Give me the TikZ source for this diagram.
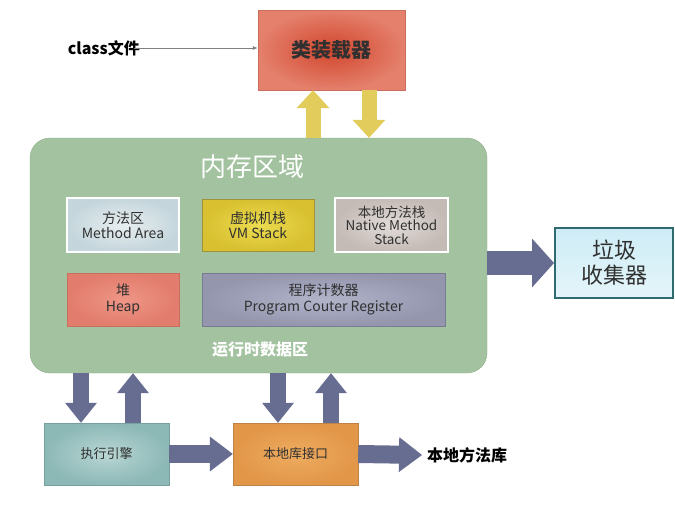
\documentclass[tikz,border=0pt]{standalone}
\usepackage{fontspec}
\setmainfont{Noto Sans CJK SC}
\usetikzlibrary{arrows.meta,calc}
\definecolor{greenbox}{HTML}{A3C3A0}
\definecolor{greenedge}{HTML}{8FB08C}
\definecolor{arrowblue}{HTML}{676D90}
\definecolor{arrowyel}{HTML}{E2CC5C}
\definecolor{txt}{HTML}{303030}
\tikzset{
  box/.style={draw, minimum width=#1, inner sep=1pt, align=center, text=txt, font=\fontsize{14}{15.5}\selectfont},
  fatv/.style={line width=16pt, draw=arrowblue, -{Triangle[width=32pt,length=20pt,line width=0pt]}},
  fath/.style={line width=18pt, draw=arrowblue, -{Triangle[width=35pt,length=23pt,line width=0pt]}},
  fatgc/.style={line width=24pt, draw=arrowblue, -{Triangle[width=49pt,length=22pt,line width=0pt]}},
  fatyel/.style={line width=15pt, draw=arrowyel, -{Triangle[width=33pt,length=18pt,line width=0pt]}},
}
\begin{document}
\begin{tikzpicture}[x=1pt,y=-1pt]
\useasboundingbox[fill=white] (0,0) rectangle (675,522);

% class loader
\node[box=147pt, minimum height=80pt, draw={rgb,255:red,200;green,110;blue,95}, inner color={rgb,255:red,210;green,70;blue,45}, outer color={rgb,255:red,228;green,128;blue,108}, font=\fontsize{20}{22}\selectfont\bfseries] (loader) at (331.5,50) {类装载器};
\node[font=\fontsize{16}{18}\selectfont\bfseries, anchor=east, inner sep=0pt] (classf) at (140,48) {class文件};
\draw[gray, line width=0.8pt, -{Latex[length=5pt,width=4pt]}] ([xshift=-6pt]classf.east) -- (loader.west |- classf.east);

% memory area
\node[draw=greenedge, fill=greenbox, rounded corners=20pt, minimum width=457pt, minimum height=235pt] (mem) at (258.5,255.5) {};
\node[text=white, font=\fontsize{26}{28}\selectfont] (memt) at (252,167) {内存区域};
\node[text=white, font=\fontsize{16}{18}\selectfont\bfseries] (rtd) at (260,350) {运行时数据区};

\node[box=112pt, minimum height=54pt, draw=white, line width=1.5pt, inner color={rgb,255:red,232;green,238;blue,240}, outer color={rgb,255:red,196;green,214;blue,220}] (method) at (123,225) {方法区\\Method Area};
\node[box=112pt, minimum height=52pt, draw={rgb,255:red,160;green,145;blue,60}, inner color={rgb,255:red,236;green,220;blue,80}, outer color={rgb,255:red,216;green,192;blue,48}] (vm) at (258,225) {虚拟机栈\\VM Stack};
\node[box=113pt, minimum height=54pt, draw=white, line width=1.5pt, inner color={rgb,255:red,226;green,220;blue,216}, outer color={rgb,255:red,196;green,186;blue,182}, font=\fontsize{13.5}{13.5}\selectfont] (native) at (391.5,225) {本地方法栈\\Native Method\\Stack};
\node[box=112pt, minimum height=53pt, draw={rgb,255:red,200;green,110;blue,95}, inner color={rgb,255:red,238;green,150;blue,135}, outer color={rgb,255:red,226;green,124;blue,108}] (heap) at (123,299.5) {堆\\Heap};
\node[box=243pt, minimum height=53pt, draw={rgb,255:red,120;green,122;blue,150}, inner color={rgb,255:red,178;green,180;blue,202}, outer color={rgb,255:red,148;green,150;blue,174}] (pc) at (323.5,299.5) {程序计数器\\Program Couter Register};

% garbage collector
\node[box=118pt, minimum height=70pt, draw={rgb,255:red,47;green,107;blue,110}, line width=2pt, top color={rgb,255:red,206;green,236;blue,246}, bottom color={rgb,255:red,228;green,245;blue,250}, font=\fontsize{22}{25}\selectfont] (gc) at (614,263) {垃圾\\收集器};

% bottom boxes
\node[box=125pt, minimum height=62pt, draw={rgb,255:red,120;green,160;blue,160}, inner color={rgb,255:red,184;green,214;blue,212}, outer color={rgb,255:red,140;green,184;blue,182}, font=\fontsize{13}{15}\selectfont] (exec) at (106.5,454) {执行引擎};
\node[box=125pt, minimum height=62pt, draw={rgb,255:red,190;green,130;blue,70}, inner color={rgb,255:red,238;green,172;blue,96}, outer color={rgb,255:red,226;green,150;blue,72}, font=\fontsize{13}{15}\selectfont] (nif) at (295.5,454) {本地库接口};
\node[font=\fontsize{16}{18}\selectfont\bfseries, anchor=west, inner sep=0pt] (nlib) at (427,455) {本地方法库};

% yellow arrows
\draw[fatyel] ([xshift=-18.5pt]loader.south |- mem.north) -- ([xshift=-18.5pt]loader.south);
\draw[fatyel] ([xshift=37.5pt]loader.south) -- ([xshift=37.5pt]loader.south |- mem.north);

% memory -> gc
\draw[fatgc] (mem.east |- gc.west) -- (gc.west);

% memory <-> exec
\draw[fatv] ([xshift=-25.5pt]exec.north |- mem.south) -- ([xshift=-25.5pt]exec.north);
\draw[fatv] ([xshift=26.5pt]exec.north) -- ([xshift=26.5pt]exec.north |- mem.south);
% memory <-> nif
\draw[fatv] ([xshift=-17.5pt]nif.north |- mem.south) -- ([xshift=-17.5pt]nif.north);
\draw[fatv] ([xshift=35.5pt]nif.north) -- ([xshift=35.5pt]nif.north |- mem.south);

% horizontal
\draw[fath] (exec.east) -- (nif.west);
\draw[fath] (nif.east) -- ([xshift=-5pt]nlib.west);
\end{tikzpicture}
\end{document}
